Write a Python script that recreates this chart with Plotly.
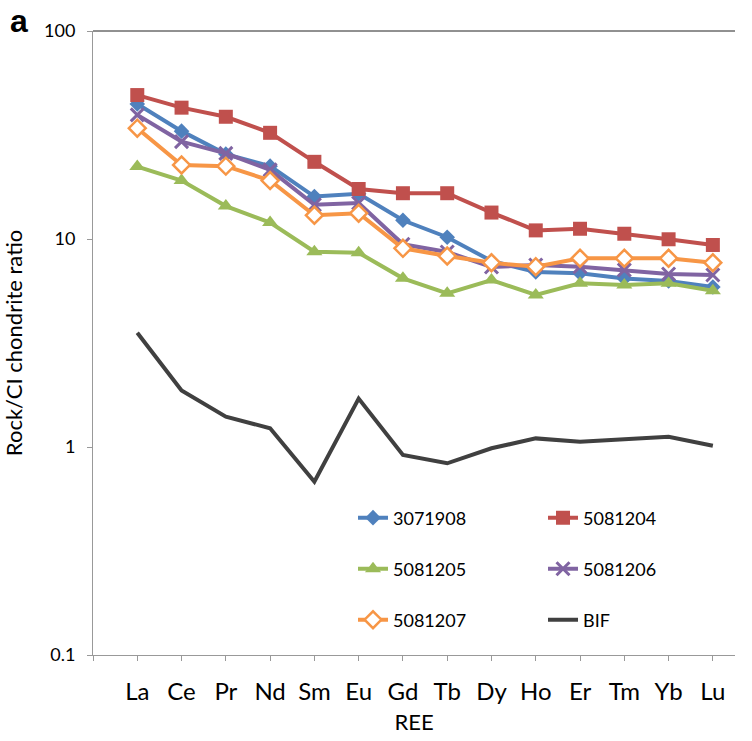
import plotly.graph_objects as go

REE = ["La", "Ce", "Pr", "Nd", "Sm", "Eu", "Gd", "Tb", "Dy", "Ho", "Er", "Tm", "Yb", "Lu"]

s3071908 = [44.6, 33.0, 25.6, 22.4, 16.0, 16.5, 12.3, 10.2, 7.84, 6.94, 6.84, 6.46, 6.28, 5.88]
s5081204 = [49.2, 42.8, 38.7, 32.4, 23.5, 17.4, 16.6, 16.6, 13.4, 11.0, 11.2, 10.6, 9.97, 9.36]
s5081205 = [22.3, 19.1, 14.4, 12.0, 8.69, 8.59, 6.47, 5.48, 6.35, 5.38, 6.12, 6.01, 6.12, 5.64]
s5081206 = [39.5, 29.4, 25.8, 21.5, 14.6, 14.9, 9.43, 8.66, 7.34, 7.50, 7.36, 7.10, 6.79, 6.71]
s5081207 = [34.1, 22.7, 22.4, 19.1, 13.0, 13.3, 9.02, 8.28, 7.69, 7.36, 8.08, 8.08, 8.08, 7.69]
sBIF = [3.54, 1.87, 1.40, 1.23, 0.681, 1.71, 0.915, 0.835, 0.986, 1.10, 1.06, 1.093, 1.12, 1.014]

y_tick_vals = [0.1, 1, 10, 100]
y_tick_text = ["0.1", "1", "10", "100"]

FONT = "Lato"
xs = list(range(len(REE)))

series = [
    ("3071908", s3071908, "#4F81BD", dict(symbol="diamond", size=12, color="#4F81BD"), "legend"),
    ("5081204", s5081204, "#C0504D", dict(symbol="square", size=14, color="#C0504D"), "legend"),
    ("5081205", s5081205, "#9BBB59", dict(symbol="triangle-up", size=14, color="#9BBB59"), "legend2"),
    ("5081206", s5081206, "#8064A2", dict(symbol="x-thin", size=13, color="#8064A2",
                                          line=dict(color="#8064A2", width=3)), "legend2"),
    ("5081207", s5081207, "#F79646", dict(symbol="diamond", size=13, color="white",
                                          line=dict(color="#F79646", width=2.5)), "legend3"),
]

fig = go.Figure()
for name, vals, col, mk, lg in series:
    fig.add_trace(go.Scatter(x=xs, y=vals, name=name, mode="lines+markers",
                             line=dict(color=col, width=4), marker=mk, legend=lg))
fig.add_trace(go.Scatter(x=xs, y=sBIF, name="BIF", mode="lines",
                         line=dict(color="#404040", width=4), legend="legend3"))

leg_common = dict(orientation="h", xanchor="left", yanchor="middle",
                  font=dict(family=FONT, size=18, color="black"),
                  entrywidth=145, entrywidthmode="pixels",
                  bgcolor="rgba(0,0,0,0)", borderwidth=0, tracegroupgap=0)

fig.update_layout(
    width=752, height=741,
    margin=dict(l=93, r=17, t=31, b=86),
    paper_bgcolor="white", plot_bgcolor="white",
    font=dict(family=FONT, color="black"),
    legend=dict(x=0.405, y=0.2196, **leg_common),
    legend2=dict(x=0.405, y=0.1378, **leg_common),
    legend3=dict(x=0.405, y=0.0561, **leg_common),
    xaxis=dict(
        range=[-1, 13.5], tickmode="array", tickvals=[-1] + xs, ticktext=[""] + REE,
        showgrid=False, zeroline=False, showline=True, linecolor="#999999", linewidth=1,
        ticks="outside", ticklen=5, tickcolor="#999999",
        tickfont=dict(family=FONT, size=24, color="black"), ticklabelstandoff=10,
        title=dict(text="REE", font=dict(family=FONT, size=22, color="black"), standoff=10),
    ),
    yaxis=dict(
        type="log", range=[-1, 2], tickmode="array", tickvals=y_tick_vals, ticktext=y_tick_text,
        showgrid=False, zeroline=False, showline=True, linecolor="#999999", linewidth=1,
        ticks="outside", ticklen=5, tickcolor="#999999",
        tickfont=dict(family=FONT, size=18, color="black"), ticklabelstandoff=8,
        title=dict(text="Rock/CI chondrite ratio", font=dict(family=FONT, size=22, color="black"),
                   standoff=18),
    ),
    shapes=[dict(type="line", xref="paper", yref="paper", x0=0, x1=1, y0=1, y1=1,
                 line=dict(color="#222222", width=1))],
    annotations=[dict(text="<b>a</b>", xref="paper", yref="paper", x=-0.133, y=1.016,
                      xanchor="left", yanchor="middle", showarrow=False,
                      font=dict(family="Liberation Sans", size=32, color="black"))],
)

fig.write_html("out.html")
